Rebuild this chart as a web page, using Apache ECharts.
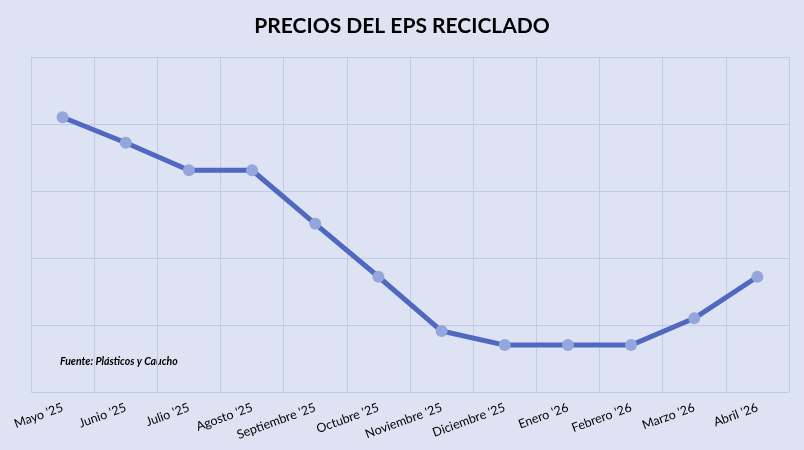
<!DOCTYPE html>
<html>
<head>
<meta charset="utf-8">
<script src="https://cdn.jsdelivr.net/npm/echarts@6/dist/echarts.min.js"></script>
<style>
  html, body { margin: 0; padding: 0; background: #dde3f3; }
  #chart { width: 804px; height: 450px; }
</style>
</head>
<body>
<div id="chart"></div>
<script>
// meses del periodo
const meses = ['Mayo \'25', 'Junio \'25', 'Julio \'25', 'Agosto \'25', 'Septiembre \'25', 'Octubre \'25',
    'Noviembre \'25', 'Diciembre \'25', 'Enero \'26', 'Febrero \'26', 'Marzo \'26', 'Abril \'26'];

// precio relativo (sin escala en el original)
const precios = [4.10, 3.72, 3.31, 3.31, 2.51, 1.72, 0.91, 0.70, 0.70, 0.70, 1.10, 1.72];

const titulo = 'PRECIOS DEL EPS RECICLADO';
const fuente = 'Fuente: Plásticos y Caucho';

const myChart = echarts.init(document.getElementById('chart'));

const option = {
    backgroundColor: '#dde3f3',
    animation: false,
    title: {
        text: titulo,
        left: 'center',
        top: 11,
        textStyle: {
            fontFamily: 'Lato',
            fontWeight: 'bold',
            fontSize: 21,
            color: '#000'
        }
    },
    graphic: [{
        type: 'text',
        left: 60,
        top: 356,
        style: {
            text: fuente,
            font: 'italic bold 10.5px Lato',
            fill: '#000'
        }
    }],
    grid: {
        left: 31,
        right: 15,
        top: 57,
        bottom: 58
    },
    xAxis: {
        type: 'category',
        data: meses,
        boundaryGap: true,
        axisLine: { show: false },
        axisTick: { show: false },
        splitLine: {
            show: true,
            interval: 0,
            lineStyle: { color: '#c0cae9', width: 1 }
        },
        axisLabel: {
            interval: 0,
            rotate: 20,
            margin: 15,
            fontFamily: 'Lato',
            fontSize: 12.5,
            color: '#000'
        }
    },
    yAxis: {
        type: 'value',
        min: 0,
        max: 5,
        interval: 1,
        axisLine: { show: false },
        axisTick: { show: false },
        axisLabel: { show: false },
        splitLine: { lineStyle: { color: '#c0cae9', width: 1 } }
    },
    series: [{
        type: 'line',
        data: precios,
        symbol: 'circle',
        symbolSize: 12,
        lineStyle: { color: '#5068bf', width: 5 },
        itemStyle: { color: '#94a6dc' }
    }]
};

myChart.setOption(option);
</script>
</body>
</html>
